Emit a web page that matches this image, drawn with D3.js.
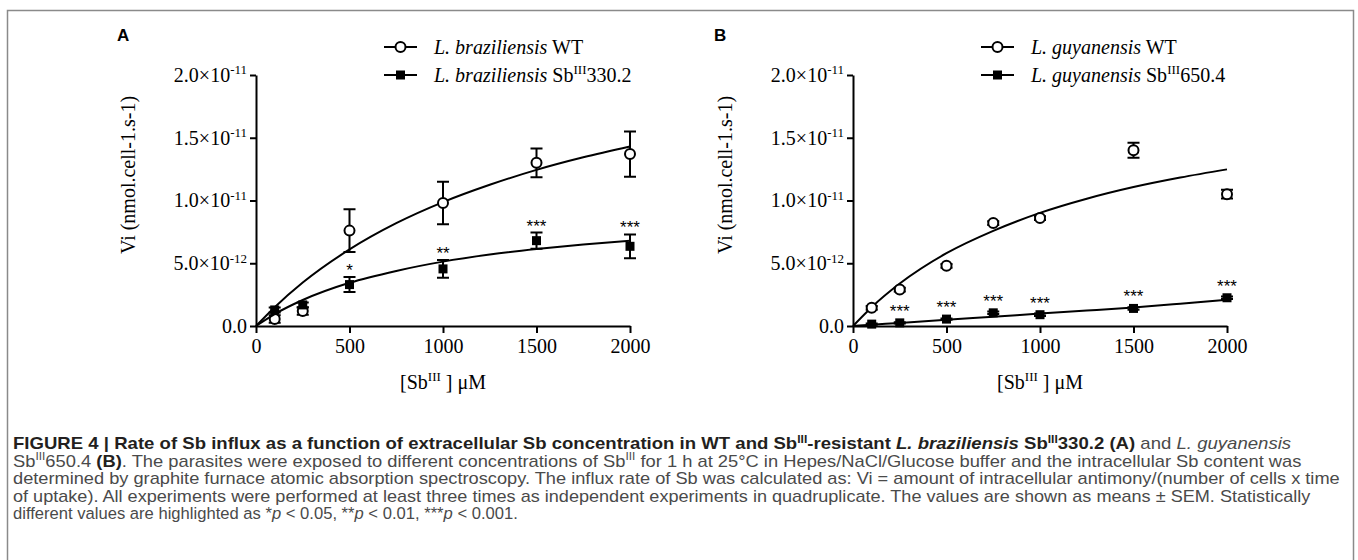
<!DOCTYPE html>
<html>
<head>
<meta charset="utf-8">
<script src="https://cdn.jsdelivr.net/npm/d3@7"></script>
<style>
  body { margin: 0; background: #fff; }
  svg { display: block; }
</style>
</head>
<body>
<svg id="chart" width="1358" height="560"></svg>
<script>
// Panel A - L. braziliensis
const concA = [100, 250, 500, 1000, 1500, 2000];
const wtA = [0.56e-12, 1.2e-12, 7.6e-12, 9.8e-12, 13.0e-12, 13.7e-12];
const wtASem = [0.3e-12, 0.3e-12, 1.7e-12, 1.7e-12, 1.15e-12, 1.8e-12];
const resA = [1.28e-12, 1.68e-12, 3.3e-12, 4.55e-12, 6.8e-12, 6.35e-12];
const resASem = [0.2e-12, 0.2e-12, 0.6e-12, 0.7e-12, 0.65e-12, 0.95e-12];
const starsA = ["", "", "*", "**", "***", "***"];

// Panel B - L. guyanensis
const concB = [100, 250, 500, 750, 1000, 1500, 2000];
const wtB = [1.45e-12, 2.9e-12, 4.8e-12, 8.2e-12, 8.6e-12, 14.0e-12, 10.5e-12];
const wtBSem = [0.15e-12, 0.15e-12, 0.15e-12, 0.15e-12, 0.15e-12, 0.6e-12, 0.35e-12];
const resB = [0.15e-12, 0.25e-12, 0.55e-12, 1.05e-12, 0.9e-12, 1.4e-12, 2.25e-12];
const resBSem = [0.05e-12, 0.05e-12, 0.05e-12, 0.1e-12, 0.1e-12, 0.1e-12, 0.1e-12];
const starsB = ["", "***", "***", "***", "***", "***", "***"];

// fitted curves
const fitX = [0, 100, 250, 500, 750, 1000, 1250, 1500, 1750, 2000];
const fitWtA = [0, 1.5e-12, 3.46e-12, 6.1e-12, 8.19e-12, 9.87e-12, 11.25e-12, 12.44e-12, 13.44e-12, 14.3e-12];
const fitResA = [0, 0.95e-12, 2.07e-12, 3.44e-12, 4.39e-12, 5.13e-12, 5.69e-12, 6.13e-12, 6.5e-12, 6.8e-12];
const fitWtB = [0, 1.5e-12, 3.38e-12, 5.8e-12, 7.58e-12, 9.01e-12, 10.14e-12, 11.07e-12, 11.83e-12, 12.48e-12];
const fitResB = [0, 0.1e-12, 0.24e-12, 0.5e-12, 0.74e-12, 0.99e-12, 1.23e-12, 1.48e-12, 1.78e-12, 2.1e-12];

const xTicks = [0, 500, 1000, 1500, 2000];
const yTicks = [0, 5e-12, 1e-11, 1.5e-11, 2e-11];
const yTickBase = ["0.0", "5.0×10", "1.0×10", "1.5×10", "2.0×10"];
const yTickExp = ["", "-12", "-11", "-11", "-11"];

const serif = '"Liberation Serif", "Times New Roman", serif';
const sans = '"Liberation Sans", Arial, sans-serif';

const svg = d3.select("#chart");

// outer frame
svg.append("path")
    .attr("d", "M7.5,580 L7.5,10.5 L1353.5,10.5 L1353.5,580")
    .attr("fill", "none")
    .attr("stroke", "#8a8a8a")
    .attr("stroke-width", 1.5);

// write text made of pieces (italic, bold, superscript)
function addRich(textSel, segs, size) {
    let shift = 0;
    segs.forEach(function(s) {
        const ts = textSel.append("tspan").text(s.t);
        if (s.i) ts.attr("font-style", "italic");
        if (s.b) ts.attr("font-weight", "bold");
        if (s.sup) {
            ts.attr("font-size", size * 0.65).attr("dy", -size * 0.38 - shift);
            shift = -size * 0.38;
        } else if (shift !== 0) {
            ts.attr("dy", -shift);
            shift = 0;
        }
    });
}

function drawPanel(p) {
    const x = d3.scaleLinear().domain([0, 2000]).range([p.x0, p.x0 + 374]);
    const y = d3.scaleLinear().domain([0, 2e-11]).range([326, 75]);
    const g = svg.append("g");

    // panel letter
    g.append("text")
        .attr("x", p.x0 - 139)
        .attr("y", 41)
        .attr("font-family", sans)
        .attr("font-weight", "bold")
        .attr("font-size", 17)
        .text(p.letter);

    // axes
    const xAxis = g.append("g")
        .attr("transform", "translate(0,326)")
        .call(d3.axisBottom(x).tickValues(xTicks).tickSize(7).tickSizeOuter(0).tickPadding(6)
            .tickFormat(d3.format("d")));
    const yAxis = g.append("g")
        .attr("transform", "translate(" + p.x0 + ",0)")
        .call(d3.axisLeft(y).tickValues(yTicks).tickSize(6).tickSizeOuter(0).tickPadding(3).tickFormat(""));
    [xAxis, yAxis].forEach(function(a) {
        a.select(".domain").attr("stroke", "#000").attr("stroke-width", 2);
        a.selectAll(".tick line").attr("stroke", "#000").attr("stroke-width", 2);
        a.selectAll("text").attr("font-family", serif).attr("font-size", 20).attr("fill", "#000");
    });
    yAxis.selectAll(".tick text").each(function(d, i) {
        const t = d3.select(this);
        t.text(null);
        addRich(t, [{ t: yTickBase[i] }, { t: yTickExp[i], sup: true }], 20);
    });

    // axis titles
    const xt = g.append("text")
        .attr("x", p.x0 + 187)
        .attr("y", 389)
        .attr("text-anchor", "middle")
        .attr("font-family", serif)
        .attr("font-size", 20);
    addRich(xt, [{ t: "[Sb" }, { t: "III", sup: true }, { t: " ] μM" }], 20);

    g.append("text")
        .attr("transform", "translate(" + (p.x0 - 121) + ",175) rotate(-90)")
        .attr("text-anchor", "middle")
        .attr("font-family", serif)
        .attr("font-size", 20)
        .text("Vi (nmol.cell-1.s-1)");

    const line = d3.line()
        .x(function(d) { return x(d[0]); })
        .y(function(d) { return y(d[1]); })
        .curve(d3.curveMonotoneX);

    p.series.forEach(function(s) {
        g.append("path")
            .datum(fitX.map(function(v, i) { return [v, s.fit[i]]; }))
            .attr("d", line)
            .attr("fill", "none")
            .attr("stroke", "#000")
            .attr("stroke-width", 2);

        const pts = p.conc.map(function(c, i) {
            return { c: c, v: s.vals[i], e: s.sem[i], star: s.stars ? s.stars[i] : "" };
        });
        const pg = g.selectAll(null).data(pts).enter().append("g");
        // error bars
        pg.append("path")
            .attr("d", function(d) {
                const cx = x(d.c), t = y(d.v + d.e), b = y(d.v - d.e);
                return "M" + (cx - 6) + "," + t + "H" + (cx + 6) + "M" + cx + "," + t + "V" + b +
                    "M" + (cx - 6) + "," + b + "H" + (cx + 6);
            })
            .attr("stroke", "#000")
            .attr("stroke-width", 2)
            .attr("fill", "none");
        if (s.marker === "circle") {
            pg.append("circle")
                .attr("cx", function(d) { return x(d.c); })
                .attr("cy", function(d) { return y(d.v); })
                .attr("r", 5)
                .attr("fill", "#fff")
                .attr("stroke", "#000")
                .attr("stroke-width", 2);
        } else {
            pg.append("rect")
                .attr("x", function(d) { return x(d.c) - 4.5; })
                .attr("y", function(d) { return y(d.v) - 4.5; })
                .attr("width", 9)
                .attr("height", 9)
                .attr("fill", "#000");
        }
        pg.filter(function(d) { return d.star; })
            .append("text")
            .attr("x", function(d) { return x(d.c); })
            .attr("y", function(d) { return Math.min(y(d.v + d.e), y(d.v) - 5) - 1; })
            .attr("text-anchor", "middle")
            .attr("font-family", sans)
            .attr("font-size", 17)
            .attr("fill", "#000")
            .text(function(d) { return d.star; });
    });

    // legend
    p.series.forEach(function(s, i) {
        const ly = 47 + i * 28;
        const lg = g.append("g");
        lg.append("line")
            .attr("x1", p.legX).attr("x2", p.legX + 33)
            .attr("y1", ly).attr("y2", ly)
            .attr("stroke", "#000").attr("stroke-width", 2);
        if (s.marker === "circle") {
            lg.append("circle").attr("cx", p.legX + 16.5).attr("cy", ly).attr("r", 5)
                .attr("fill", "#fff").attr("stroke", "#000").attr("stroke-width", 2);
        } else {
            lg.append("rect").attr("x", p.legX + 12).attr("y", ly - 4.5)
                .attr("width", 9).attr("height", 9).attr("fill", "#000");
        }
        const lt = lg.append("text")
            .attr("x", p.legX + 50)
            .attr("y", ly + 7)
            .attr("font-family", serif)
            .attr("font-size", 20);
        addRich(lt, s.label, 20);
    });
}

drawPanel({
    letter: "A", x0: 256, legX: 384, conc: concA,
    series: [
        { vals: wtA, sem: wtASem, fit: fitWtA, marker: "circle",
          label: [{ t: "L. braziliensis", i: true }, { t: " WT" }] },
        { vals: resA, sem: resASem, fit: fitResA, marker: "square", stars: starsA,
          label: [{ t: "L. braziliensis", i: true }, { t: " Sb" }, { t: "III", sup: true }, { t: "330.2" }] }
    ]
});
drawPanel({
    letter: "B", x0: 853, legX: 981, conc: concB,
    series: [
        { vals: wtB, sem: wtBSem, fit: fitWtB, marker: "circle",
          label: [{ t: "L. guyanensis", i: true }, { t: " WT" }] },
        { vals: resB, sem: resBSem, fit: fitResB, marker: "square", stars: starsB,
          label: [{ t: "L. guyanensis", i: true }, { t: " Sb" }, { t: "III", sup: true }, { t: "650.4" }] }
    ]
});

// caption
const captionLines = [
    [{ t: "FIGURE 4 | Rate of Sb influx as a function of extracellular Sb concentration in WT and Sb", b: true },
     { t: "III", b: true, sup: true }, { t: "-resistant ", b: true }, { t: "L. braziliensis", b: true, i: true },
     { t: " Sb", b: true }, { t: "III", b: true, sup: true }, { t: "330.2 (A)", b: true },
     { t: " and " }, { t: "L. guyanensis", i: true }],
    [{ t: "Sb" }, { t: "III", sup: true }, { t: "650.4 " }, { t: "(B)", b: true },
     { t: ". The parasites were exposed to different concentrations of Sb" }, { t: "III", sup: true },
     { t: " for 1 h at 25°C in Hepes/NaCl/Glucose buffer and the intracellular Sb content was" }],
    [{ t: "determined by graphite furnace atomic absorption spectroscopy. The influx rate of Sb was calculated as: Vi = amount of intracellular antimony/(number of cells x time" }],
    [{ t: "of uptake). All experiments were performed at least three times as independent experiments in quadruplicate. The values are shown as means ± SEM. Statistically" }],
    [{ t: "different values are highlighted as *" }, { t: "p", i: true }, { t: " < 0.05, **" }, { t: "p", i: true },
     { t: " < 0.01, ***" }, { t: "p", i: true }, { t: " < 0.001." }]
];
const captionWidths = [1279, 1289, 1328, 1298, 505];

captionLines.forEach(function(segs, i) {
    const t = svg.append("text")
        .attr("font-family", sans)
        .attr("font-size", 17)
        .attr("fill", "#4a4a4a");
    addRich(t, segs, 17);
    t.selectAll("tspan").filter(function() { return d3.select(this).attr("font-weight") === "bold"; })
        .attr("fill", "#231f20");
    const w = t.node().getComputedTextLength();
    t.attr("transform", "translate(13," + (449 + i * 17.5) + ") scale(" + (captionWidths[i] / w) + ",1)");
});
</script>
</body>
</html>
